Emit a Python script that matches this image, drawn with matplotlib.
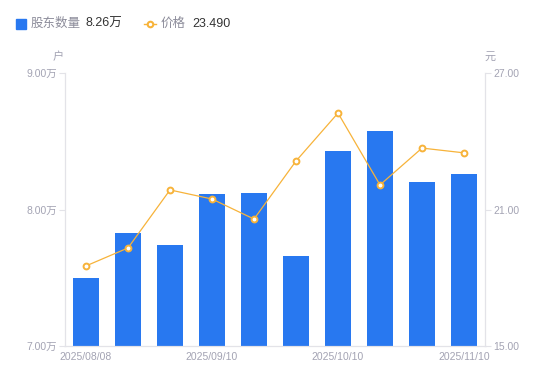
import matplotlib
matplotlib.use("Agg")
import matplotlib.pyplot as plt
from matplotlib.lines import Line2D
from matplotlib.patches import Rectangle

plt.rcParams['font.family'] = ['Liberation Sans', 'Noto Sans CJK SC', 'DejaVu Sans']

# data
dates = ['2025/08/08', '2025/08/20', '2025/08/29', '2025/09/10', '2025/09/19',
         '2025/09/30', '2025/10/10', '2025/10/20', '2025/10/31', '2025/11/10']
holders = [7.50, 7.83, 7.74, 8.11, 8.12, 7.66, 8.43, 8.575, 8.20, 8.26]  # 万户
price = [18.52, 19.31, 21.86, 21.46, 20.58, 23.13, 25.24, 22.08, 23.70, 23.49]  # 元
shown_ticks = [0, 3, 6, 9]

bar_color = '#2878f0'
line_color = '#f7b33a'
axis_color = '#e3e3e8'
label_color = '#a3a3b3'

fig = plt.figure(figsize=(5.5, 3.81), dpi=100)
ax = fig.add_axes([65 / 550, 35 / 381, 420 / 550, 273 / 381])
ax2 = ax.twinx()

x = list(range(len(dates)))
ax.bar(x, holders, width=0.6, color=bar_color, zorder=2)
ax.set_xlim(-0.5, len(dates) - 0.5)
ax.set_ylim(7.0, 9.0)
ax.set_yticks([7.0, 8.0, 9.0])
ax.set_yticklabels([f'{v:.2f}万' for v in [7.0, 8.0, 9.0]])
ax.set_xticks([x[i] for i in shown_ticks])
ax.set_xticklabels([dates[i] for i in shown_ticks])

ax2.plot(x, price, color=line_color, lw=0.9, marker='o', ms=4.2,
         markerfacecolor='white', markeredgecolor=line_color, markeredgewidth=1.4, zorder=3)
ax2.set_ylim(15, 27)
ax2.set_yticks([15, 21, 27])
ax2.set_yticklabels([f'{v:.2f}' for v in [15, 21, 27]])

for a in (ax, ax2):
    a.spines['top'].set_visible(False)
    for s in ('left', 'right', 'bottom'):
        a.spines[s].set_color(axis_color)
    a.tick_params(colors=label_color, labelsize=7.5, length=4, width=0.8)
    a.tick_params(axis='y', color=axis_color, labelcolor=label_color, pad=2)
ax.tick_params(axis='x', length=0, pad=4, labelcolor=label_color)
ax2.set_zorder(ax.get_zorder() + 1)
ax2.patch.set_visible(False)

# unit labels
fig.text(58 / 550, 1 - 57 / 381, '户', color=label_color, fontsize=8, ha='center', va='center')
fig.text(490 / 550, 1 - 57 / 381, '元', color=label_color, fontsize=8, ha='center', va='center')

# legend row
ly = 1 - 24 / 381
fig.patches.append(Rectangle((16 / 550, ly - 5 / 381), 10 / 550, 10 / 381,
                             transform=fig.transFigure, color=bar_color))
fig.text(31 / 550, ly, '股东数量', color='#8c8c9a', fontsize=9, va='center')
fig.text(85 / 550, ly, '8.26万', color='#333333', fontsize=9, va='center')
fig.lines.append(Line2D([144 / 550, 150 / 550, 156 / 550], [ly, ly, ly],
                        transform=fig.transFigure, color=line_color, lw=1,
                        marker='o', ms=4, markevery=[1], markerfacecolor='white',
                        markeredgecolor=line_color, markeredgewidth=1.5))
fig.text(161 / 550, ly, '价格', color='#8c8c9a', fontsize=9, va='center')
fig.text(192 / 550, ly, '23.490', color='#333333', fontsize=9, va='center')

fig.savefig('out.png', dpi=100)
